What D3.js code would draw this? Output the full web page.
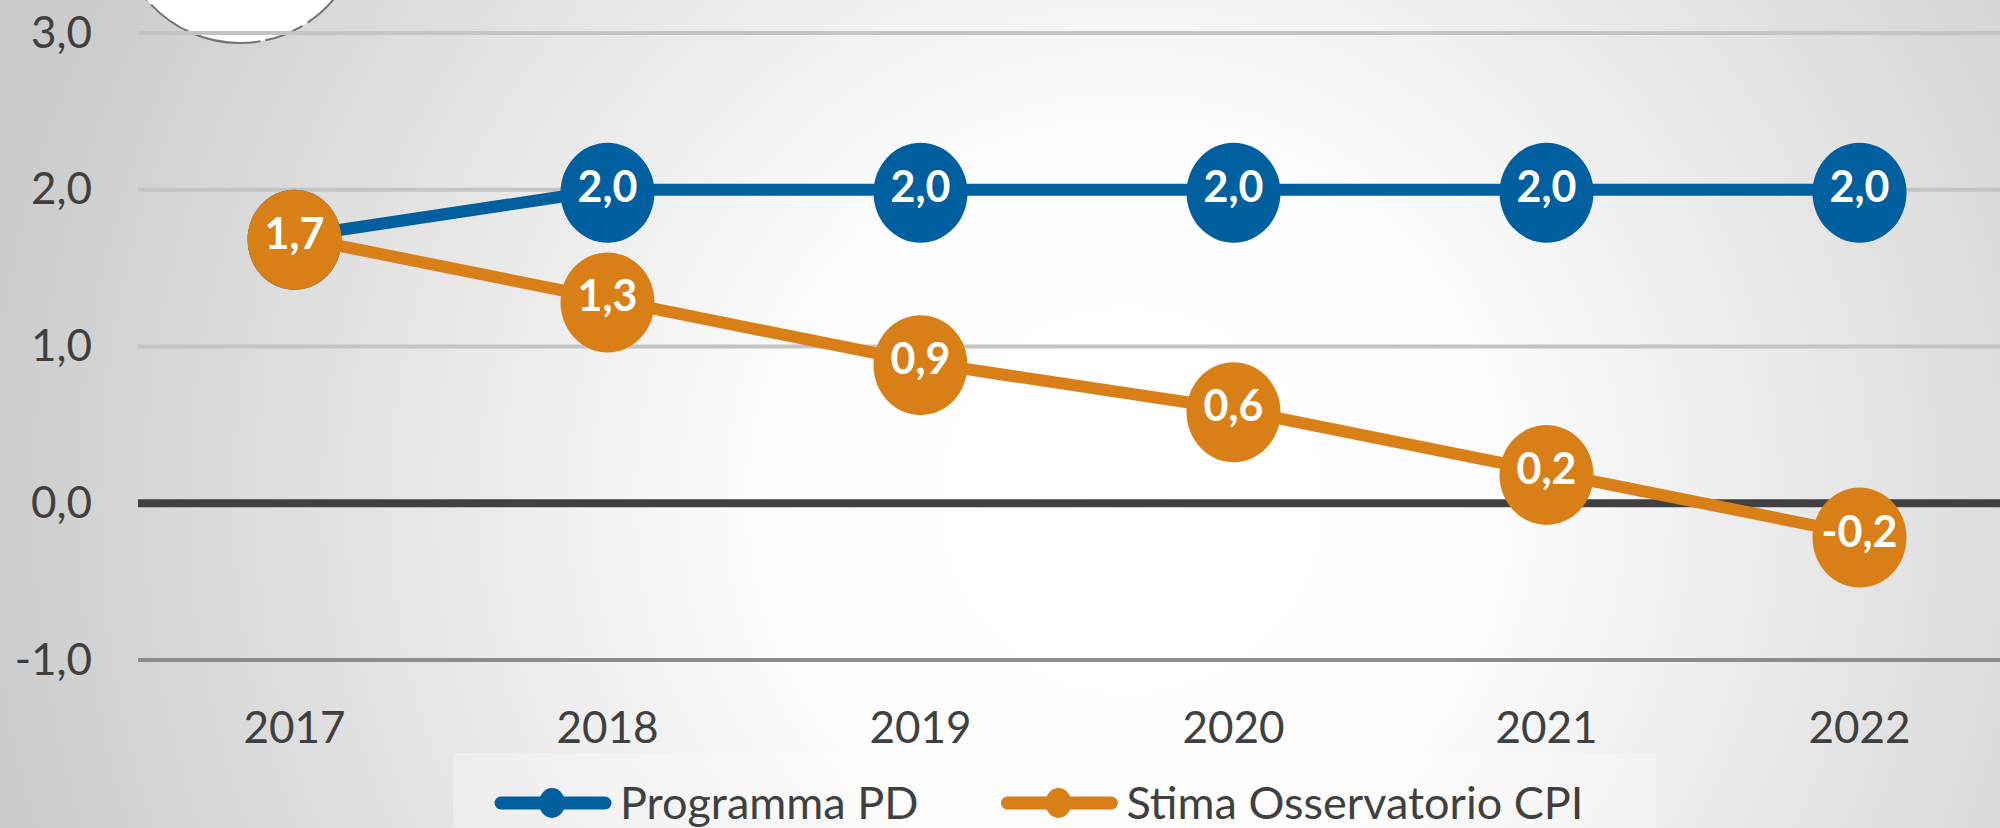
<!DOCTYPE html>
<meta charset="utf-8">
<style>

html, body {
  margin: 0;
  padding: 0;
  overflow: hidden;
  font: 44px Lato, sans-serif;
}

svg {
  display: block;
}

.axis text {
  fill: #404040;
  font-family: Lato, sans-serif;
  font-size: 44px;
}

.axis path {
  display: none;
}

.grid line {
  stroke: #c4c4c4;
  stroke-width: 4px;
}

.grid line.zero {
  stroke: #404040;
  stroke-width: 8px;
}

.grid line.bottom {
  stroke: #8c8c8c;
  stroke-width: 4px;
}

.series path {
  fill: none;
  stroke-width: 12px;
  stroke-linejoin: round;
}

.series text {
  fill: #fff;
  font-family: Lato, sans-serif;
  font-weight: bold;
  font-size: 43px;
  text-anchor: middle;
}

.legend text {
  fill: #404040;
  font-family: Lato, sans-serif;
  font-size: 45px;
}

</style>
<svg class="chart"></svg>
<script src="https://cdn.jsdelivr.net/npm/d3@7"></script>
<script>

var years = ['2017', '2018', '2019', '2020', '2021', '2022'];
var programmaPD = [1.7, 2.0, 2.0, 2.0, 2.0, 2.0];
var stimaCPI = [1.7, 1.3, 0.9, 0.6, 0.2, -0.2];
var yTicks = [-1, 0, 1, 2, 3];
var seriesNames = ['Programma PD', 'Stima Osservatorio CPI'];
var seriesColors = ['#005f9f', '#d97f17'];

var width = 2000;
var height = 828;
var margin = {left: 138, right: -16, top: 33, bottom: 168};

var svg = d3.select('svg.chart')
  .attr('width', width)
  .attr('height', height);

var fmt = d3.formatLocale({decimal: ',', thousands: '.', grouping: [3], currency: ['', ' €'], minus: '-'}).format('.1f');

var x = d3.scaleBand()
  .domain(years)
  .range([margin.left, width - margin.right]);

var y = d3.scaleLinear()
  .domain([-1, 3])
  .range([height - margin.bottom, margin.top]);

// background: soft radial glow, white in the middle
var defs = svg.append('defs');
var glow = defs.append('radialGradient')
  .attr('id', 'glow')
  .attr('gradientUnits', 'userSpaceOnUse')
  .attr('cx', 1130)
  .attr('cy', 500)
  .attr('r', 1180);
glow.append('stop').attr('offset', 0).attr('stop-color', '#ffffff');
glow.append('stop').attr('offset', 0.3).attr('stop-color', '#fdfdfd');
glow.append('stop').attr('offset', 1).attr('stop-color', '#cacaca');

svg.append('rect')
  .attr('width', width)
  .attr('height', height)
  .attr('fill', 'url(#glow)');

// partial logo circle in the top-left corner
svg.append('circle')
  .attr('cx', 240)
  .attr('cy', -79)
  .attr('r', 122)
  .attr('fill', '#fff')
  .attr('stroke', '#555')
  .attr('stroke-width', 2)
  .attr('stroke-opacity', 0.8)
  .attr('stroke-dasharray', '120,6,40,5');

// legend box
svg.append('rect')
  .attr('x', 453)
  .attr('y', 753)
  .attr('width', 1203)
  .attr('height', 80)
  .attr('fill', '#fff')
  .attr('fill-opacity', 0.3);

// gridlines
svg.append('g')
  .attr('class', 'grid')
  .selectAll('line')
  .data(yTicks)
  .enter().append('line')
  .attr('class', function (d) { return d === 0 ? 'zero' : (d === yTicks[0] ? 'bottom' : null); })
  .attr('x1', margin.left)
  .attr('x2', width)
  .attr('y1', function (d) { return y(d); })
  .attr('y2', function (d) { return y(d); });

svg.append('g')
  .attr('class', 'axis y')
  .attr('transform', 'translate(' + margin.left + ',0)')
  .call(d3.axisLeft(y).tickValues(yTicks).tickSize(0).tickPadding(46).tickFormat(fmt));

svg.append('g')
  .attr('class', 'axis x')
  .attr('transform', 'translate(0,' + y(-1) + ')')
  .call(d3.axisBottom(x).tickSize(0).tickPadding(52));

var series = [programmaPD, stimaCPI].map(function (values, i) {
  return {
    name: seriesNames[i],
    color: seriesColors[i],
    points: values.map(function (v, j) { return {year: years[j], value: v}; })
  };
});

var line = d3.line()
  .x(function (d) { return x(d.year) + x.bandwidth() / 2; })
  .y(function (d) { return y(d.value); });

var groups = svg.selectAll('g.series')
  .data(series)
  .enter().append('g')
  .attr('class', 'series');

groups.append('path')
  .attr('stroke', function (d) { return d.color; })
  .attr('d', function (d) { return line(d.points); });

groups.each(function (s) {
  var g = d3.select(this);

  g.selectAll('ellipse')
    .data(s.points)
    .enter().append('ellipse')
    .attr('cx', function (d) { return x(d.year) + x.bandwidth() / 2; })
    .attr('cy', function (d) { return y(d.value) + 3; })
    .attr('rx', 47)
    .attr('ry', 50)
    .attr('fill', s.color);

  g.selectAll('text')
    .data(s.points)
    .enter().append('text')
    .attr('x', function (d) { return x(d.year) + x.bandwidth() / 2; })
    .attr('y', function (d) { return y(d.value) + 12; })
    .text(function (d) { return fmt(d.value); });
});

// legend
var legend = svg.append('g')
  .attr('class', 'legend')
  .attr('transform', 'translate(495,803)');

var lx = 0;
series.forEach(function (s) {
  var item = legend.append('g').attr('transform', 'translate(' + lx + ',0)');

  item.append('line')
    .attr('x1', 6).attr('x2', 110)
    .attr('stroke', s.color)
    .attr('stroke-width', 13)
    .attr('stroke-linecap', 'round');

  item.append('ellipse')
    .attr('cx', 57)
    .attr('rx', 13)
    .attr('ry', 15)
    .attr('fill', s.color);

  var t = item.append('text')
    .attr('x', 125)
    .attr('dy', '0.36em')
    .text(s.name);

  lx += 125 + t.node().getComputedTextLength() + 83;
});

</script>
